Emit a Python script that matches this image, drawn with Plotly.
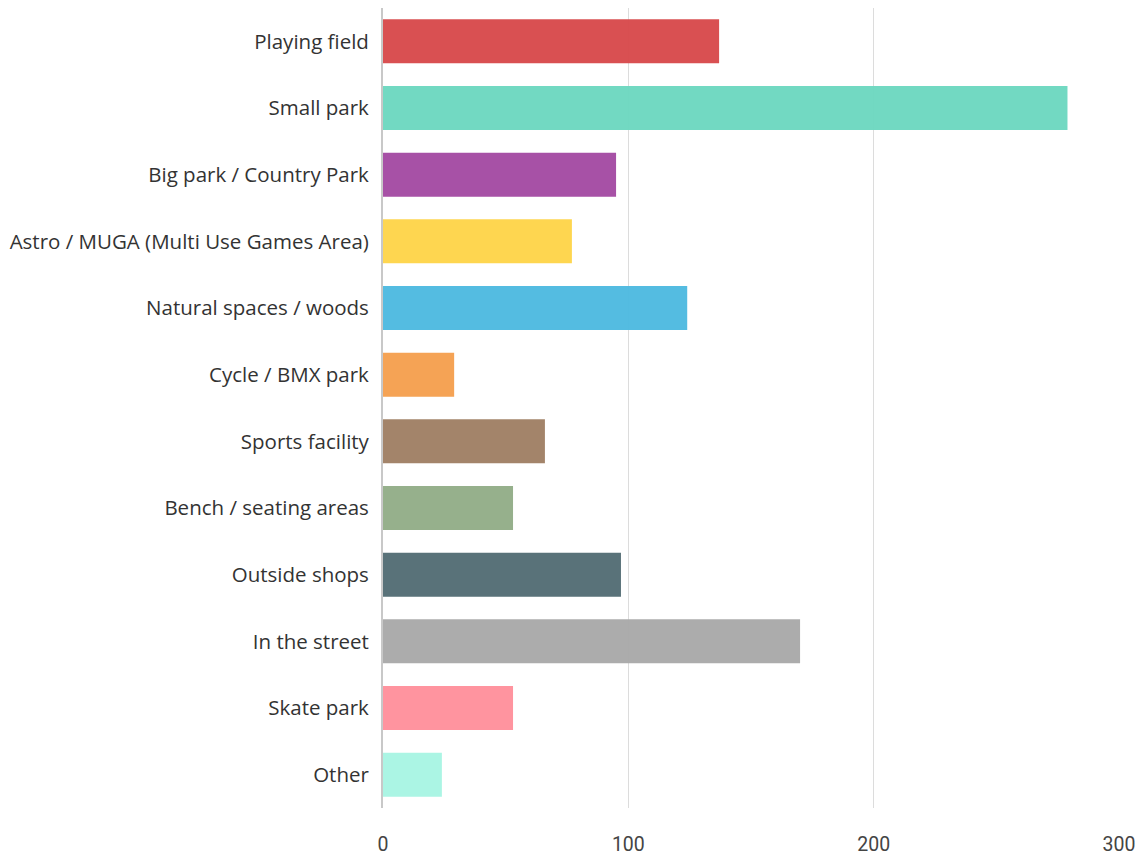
import plotly.graph_objects as go

categories = [
    "Playing field", "Small park", "Big park / Country Park",
    "Astro / MUGA (Multi Use Games Area)", "Natural spaces / woods",
    "Cycle / BMX park", "Sports facility", "Bench / seating areas",
    "Outside shops", "In the street", "Skate park", "Other",
]
values = [137, 279, 95, 77, 124, 29, 66, 53, 97, 170, 53, 24]
colors = [
    "#d84a4c", "#6dd8c0", "#a44ba3", "#fed54a", "#4ebae0", "#f5a050",
    "#a08065", "#93ad88", "#546d75", "#a9a9a9", "#ff919c", "#a8f5e3",
]
tick_vals = [0, 100, 200, 300]

fig = go.Figure(
    go.Bar(
        x=values,
        y=categories,
        orientation="h",
        width=0.66,
        marker=dict(color=colors, opacity=0.97, line=dict(width=0)),
    )
)

fig.update_layout(
    width=1146,
    height=856,
    margin=dict(l=383, r=27, t=8, b=48),
    paper_bgcolor="white",
    plot_bgcolor="white",
    showlegend=False,
    font=dict(family="Open Sans, sans-serif", color="#333333"),
    bargap=0.34,
)
fig.update_xaxes(
    range=[0, 300],
    tickvals=tick_vals,
    showgrid=True,
    gridcolor="#dcdcdc",
    gridwidth=1,
    zeroline=False,
    showline=False,
    ticks="outside",
    ticklen=19,
    tickcolor="rgba(0,0,0,0)",
    tickfont=dict(size=19.5, color="#444444", family="Roboto, sans-serif"),
    automargin=False,
)
fig.update_yaxes(
    autorange="reversed",
    showline=True,
    linecolor="#c8c8c8",
    linewidth=2,
    ticks="outside",
    ticklen=8,
    tickcolor="rgba(0,0,0,0)",
    tickfont=dict(size=20.5, color="#333333"),
    automargin=False,
)

fig.write_html("out.html")
